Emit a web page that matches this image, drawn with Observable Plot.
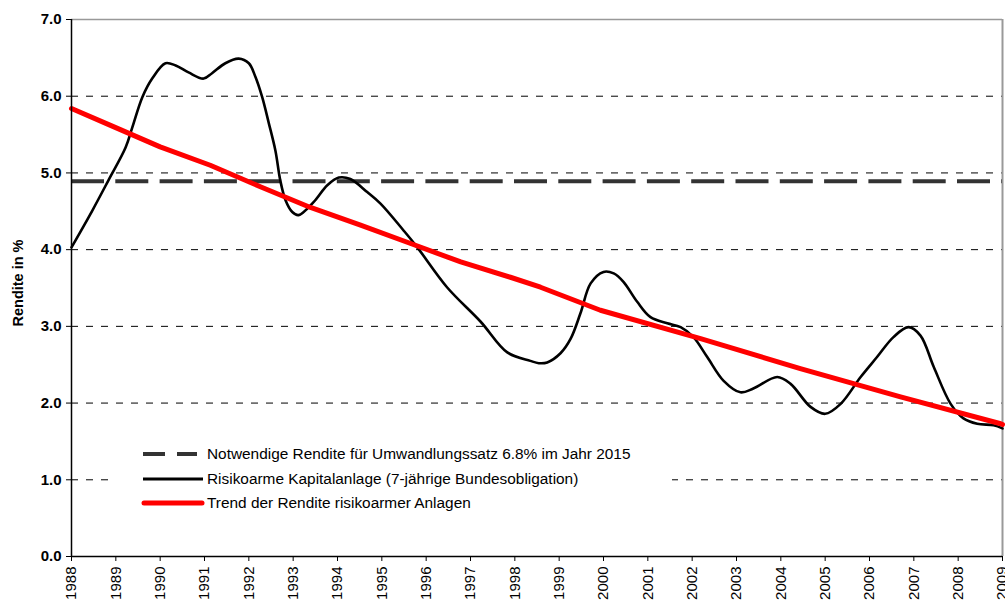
<!DOCTYPE html>
<html>
<head>
<meta charset="utf-8">
<script src="https://cdn.jsdelivr.net/npm/d3@7"></script>
<script src="https://cdn.jsdelivr.net/npm/@observablehq/plot@0.6"></script>
<style>
  html, body { margin: 0; padding: 0; background: #fff; }
  #wrap { position: relative; width: 1005px; height: 602px; overflow: hidden; font-family: "Liberation Sans", Arial, sans-serif; }
  #legend { position: absolute; left: 110px; top: 428px; width: 562px; height: 100px; background: #fff; }
  .lt { position: absolute; left: 97px; font-size: 15.4px; line-height: 18px; color: #000; white-space: nowrap; }
  #legend svg { position: absolute; left: 0; top: 0; }
  #ylabel { position: absolute; left: 18px; top: 283px; transform: translate(-50%, -50%) rotate(-90deg); font-size: 14.5px; font-weight: bold; white-space: nowrap; color: #000; }
  g[aria-label="x-axis tick label"] { font-size: 15px; }
</style>
</head>
<body>
<div id="wrap"></div>
<script>
// ---- data ----
const yearTicks = d3.range(1988, 2010);
const valueTicks = [0, 1, 2, 3, 4, 5, 6, 7];
const requiredYield = 4.89;
const yLabel = "Rendite in %";

const bondYears = [1988.00,1988.47,1988.83,1989.22,1989.37,1989.60,1989.82,1990.12,1990.35,1990.64,1990.98,1991.17,1991.47,1991.77,1992.00,1992.15,1992.30,1992.45,1992.60,1992.71,1992.83,1992.98,1993.12,1993.46,1993.77,1994.03,1994.29,1994.67,1994.97,1995.49,1995.80,1996.47,1997.23,1997.83,1998.35,1998.54,1998.73,1999.03,1999.26,1999.48,1999.71,2000.00,2000.23,2000.45,2000.76,2001.06,2001.44,2001.74,2002.03,2002.34,2002.71,2003.09,2003.38,2003.92,2004.22,2004.67,2005.00,2005.35,2005.80,2006.17,2006.54,2006.88,2007.15,2007.45,2007.83,2008.12,2008.43,2008.80,2009.00];
const bondValues = [4.03,4.51,4.90,5.33,5.59,5.99,6.23,6.43,6.40,6.31,6.23,6.30,6.43,6.49,6.43,6.25,5.99,5.65,5.29,4.90,4.64,4.49,4.45,4.62,4.84,4.94,4.92,4.75,4.60,4.25,4.03,3.51,3.06,2.66,2.55,2.52,2.53,2.65,2.84,3.17,3.56,3.71,3.69,3.58,3.32,3.12,3.04,2.99,2.86,2.60,2.29,2.14,2.19,2.34,2.25,1.95,1.86,1.99,2.34,2.60,2.86,2.99,2.88,2.47,1.99,1.80,1.73,1.71,1.67];

const trendYears = [1988.00,1988.88,1990.00,1991.13,1992.26,1993.39,1994.52,1995.65,1996.78,1997.90,1998.58,1999.93,2002.19,2004.44,2006.70,2008.96,2009.00];
const trendValues = [5.84,5.62,5.34,5.10,4.82,4.55,4.32,4.08,3.84,3.64,3.51,3.21,2.84,2.45,2.08,1.73,1.72];

const legendLabels = [
  "Notwendige Rendite für Umwandlungssatz 6.8% im Jahr 2015",
  "Risikoarme Kapitalanlage (7-jährige Bundesobligation)",
  "Trend der Rendite risikoarmer Anlagen"
];

const bond = bondYears.map((x, i) => ({x, y: bondValues[i]}));
const trend = trendYears.map((x, i) => ({x, y: trendValues[i]}));

const chart = Plot.plot({
  width: 1005,
  height: 602,
  marginLeft: 71,
  marginRight: 3,
  marginTop: 19,
  marginBottom: 46,
  style: {fontFamily: "'Liberation Sans', Arial, sans-serif", color: "#000", background: "#fff", overflow: "visible"},
  x: {domain: [1988, 2009]},
  y: {domain: [0, 7]},
  marks: [
    Plot.ruleY([1, 2, 3, 4, 5, 6], {stroke: "#000", strokeWidth: 1, strokeDasharray: "7,8"}),
    Plot.ruleY([7], {stroke: "#999", strokeWidth: 1.5}),
    Plot.ruleX([2009], {stroke: "#999", strokeWidth: 2}),
    Plot.ruleY([requiredYield], {stroke: "#333", strokeWidth: 4, strokeDasharray: "33,11.3"}),
    Plot.line(bond, {x: "x", y: "y", stroke: "#000", strokeWidth: 2.6, curve: "catmull-rom"}),
    Plot.line(trend, {x: "x", y: "y", stroke: "#ff0000", strokeWidth: 5, curve: "linear"}),
    Plot.ruleX([1988], {stroke: "#000", strokeWidth: 1.5}),
    Plot.ruleY([0], {stroke: "#000", strokeWidth: 1.5}),
    Plot.axisY({ticks: valueTicks, tickFormat: d => d.toFixed(1), fontWeight: "bold", fontSize: 15, tickSize: 5, tickPadding: 5, label: null}),
    Plot.axisX({ticks: yearTicks, tickFormat: d => String(d), tickRotate: -90, fontSize: 15, tickSize: 5, tickPadding: 5, label: null})
  ]
});
const wrap = document.getElementById("wrap");
wrap.appendChild(chart);

const yl = document.createElement("div");
yl.id = "ylabel";
yl.textContent = yLabel;
wrap.appendChild(yl);

// Legend (inside plot area)
const leg = document.createElement("div");
leg.id = "legend";
leg.innerHTML = `
<svg width="562" height="100">
  <line x1="33" x2="87" y1="26" y2="26" stroke="#333" stroke-width="4" stroke-dasharray="22,12"/>
  <line x1="33" x2="93" y1="51" y2="51" stroke="#000" stroke-width="3"/>
  <line x1="34" x2="92" y1="75" y2="75" stroke="#ff0000" stroke-width="5" stroke-linecap="round"/>
</svg>
<div class="lt" style="top:17px">${legendLabels[0]}</div>
<div class="lt" style="top:42px">${legendLabels[1]}</div>
<div class="lt" style="top:66px">${legendLabels[2]}</div>`;
wrap.appendChild(leg);
</script>
</body>
</html>
